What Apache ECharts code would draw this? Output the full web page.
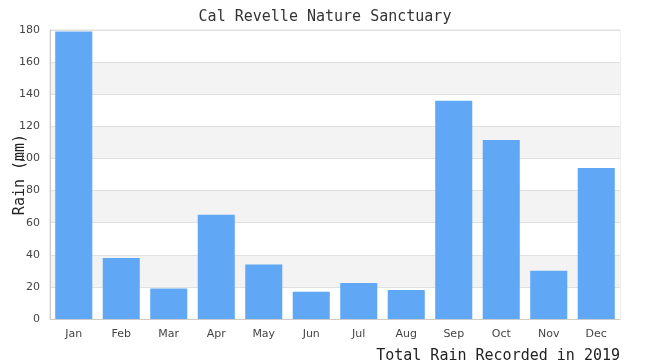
<!DOCTYPE html>
<html><head><meta charset="utf-8">
<script src="https://cdn.jsdelivr.net/npm/echarts@6/dist/echarts.min.js"></script>
<style>html,body{margin:0;padding:0;background:#fff}#c{width:650px;height:360px}</style>
</head><body><div id="c"></div>
<script>
const months = ['Jan','Feb','Mar','Apr','May','Jun','Jul','Aug','Sep','Oct','Nov','Dec'];
const rain = [179, 38, 19, 65, 34, 17, 22.5, 18, 136, 111.5, 30, 94];
const yTicks = {min: 0, max: 180, interval: 20};
const chart = echarts.init(document.getElementById('c'));
chart.setOption({
  animation: false,
  title: {text: 'Cal Revelle Nature Sanctuary', left: 'center', top: 5,
    textStyle: {fontFamily: 'DejaVu Sans Mono', fontSize: 15, fontWeight: 'normal', color: '#333'}},
  grid: {left: 50, right: 30, top: 30, bottom: 41, outerBoundsMode: 'none', containLabel: false,
    show: true, borderColor: '#ddd', borderWidth: 1, backgroundColor: 'transparent'},
  xAxis: {type: 'category', data: months,
    axisLine: {lineStyle: {color: '#ccc'}}, axisTick: {show: false},
    axisLabel: {color: '#444', fontSize: 11, fontFamily: 'DejaVu Sans', margin: 10}},
  yAxis: {type: 'value', min: yTicks.min, max: yTicks.max, interval: yTicks.interval,
    name: 'Rain (mm)', nameLocation: 'middle', nameGap: 22, nameMoveOverlap: false,
    nameTextStyle: {fontFamily: 'DejaVu Sans Mono', fontSize: 15, fontWeight: 'normal', color: '#222'},
    axisLine: {show: true, lineStyle: {color: '#ccc'}}, axisTick: {show: false},
    axisLabel: {color: '#444', fontSize: 11, fontFamily: 'DejaVu Sans', margin: 10},
    splitLine: {lineStyle: {color: '#e0e0e0'}},
    splitArea: {show: true, areaStyle: {color: ['#ffffff', '#f3f3f3']}}},
  graphic: [{type: 'text', right: 30, top: 349,
    style: {text: 'Total Rain Recorded in 2019', fontFamily: 'DejaVu Sans Mono', fontSize: 15, fill: '#222'}}],
  series: [{type: 'bar', data: rain, barWidth: '78%', itemStyle: {color: '#60a8f5'}}]
});
</script></body></html>
